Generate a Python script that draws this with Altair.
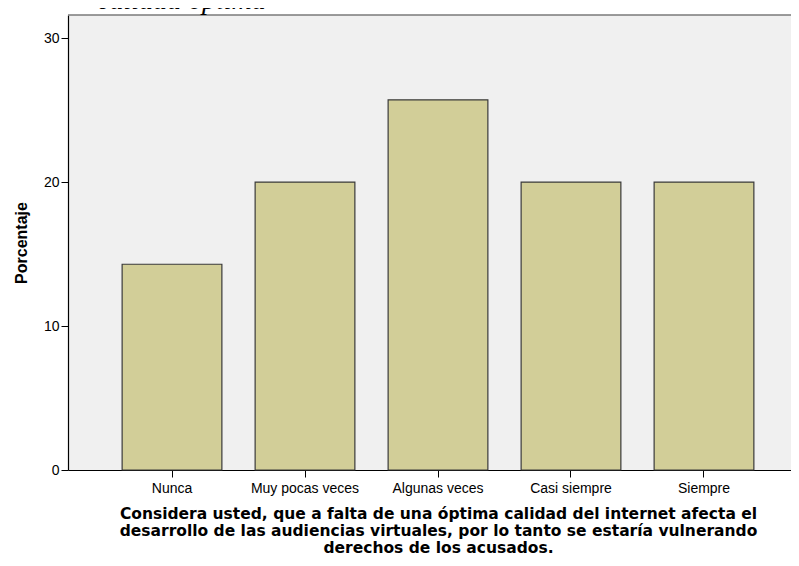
import altair as alt
import pandas as pd

categories = ["Nunca", "Muy pocas veces", "Algunas veces", "Casi siempre", "Siempre"]
percentages = [14.29, 20.0, 25.71, 20.0, 20.0]
y_ticks = [0, 10, 20, 30]
x_title = ["Considera usted, que a falta de una óptima calidad del internet afecta el",
           "desarrollo de las audiencias virtuales, por lo tanto se estaría vulnerando",
           "derechos de los acusados."]
caption = "calidad óptima"

df = pd.DataFrame({"cat": categories, "pct": percentages})

bars = alt.Chart(df).mark_bar(
    fill="#D2CE98", stroke="#3a3a3a", strokeWidth=1.2
).encode(
    x=alt.X("cat:N", sort=categories,
            scale=alt.Scale(paddingInner=0.25, paddingOuter=0.407, range=[0, 740]),
            axis=alt.Axis(title=x_title, labelAngle=0, labelFont="Liberation Sans",
                          labelFontSize=14, labelColor="#000", labelPadding=4,
                          tickColor="#000", tickSize=7, domainColor="#000", domainWidth=1.2,
                          titleFont="DejaVu Sans", titleFontSize=15.5, titleFontWeight="bold",
                          titleColor="#000", titlePadding=11, titleLineHeight=17,
                          titleX=370, titleAnchor="middle")),
    y=alt.Y("pct:Q", scale=alt.Scale(domain=[0, 31.6], nice=False),
            axis=alt.Axis(title="Porcentaje", values=y_ticks, grid=False,
                          labelFont="Liberation Sans", labelFontSize=14, labelColor="#000",
                          tickColor="#000", tickSize=7, labelPadding=2,
                          domainColor="#000", domainWidth=1.2,
                          titleFont="Liberation Sans", titleFontSize=16, titleFontWeight="bold",
                          titleColor="#000", titlePadding=14))
)

top_border = alt.Chart(pd.DataFrame({"t": [caption]})).mark_rule(
    color="#7a7a7a", strokeWidth=1.5
).encode(x=alt.value(0), x2=alt.value(740), y=alt.value(0))

cap = alt.Chart(pd.DataFrame({"t": [caption]})).mark_text(
    font="Liberation Serif", fontStyle="italic", fontSize=28, align="left",
    baseline="alphabetic", color="#000"
).encode(x=alt.value(29), y=alt.value(-6), text="t:N")

chart = alt.layer(bars, top_border, cap).properties(
    width=723, height=455,
    autosize=alt.AutoSizeParams(type="none"),
    padding={"left": 60, "top": 7, "right": 0, "bottom": 88},
).configure_view(
    fill="#F0F0F0", stroke=None
)

chart.save("out.html", embed_options={"renderer": "svg", "actions": False})
